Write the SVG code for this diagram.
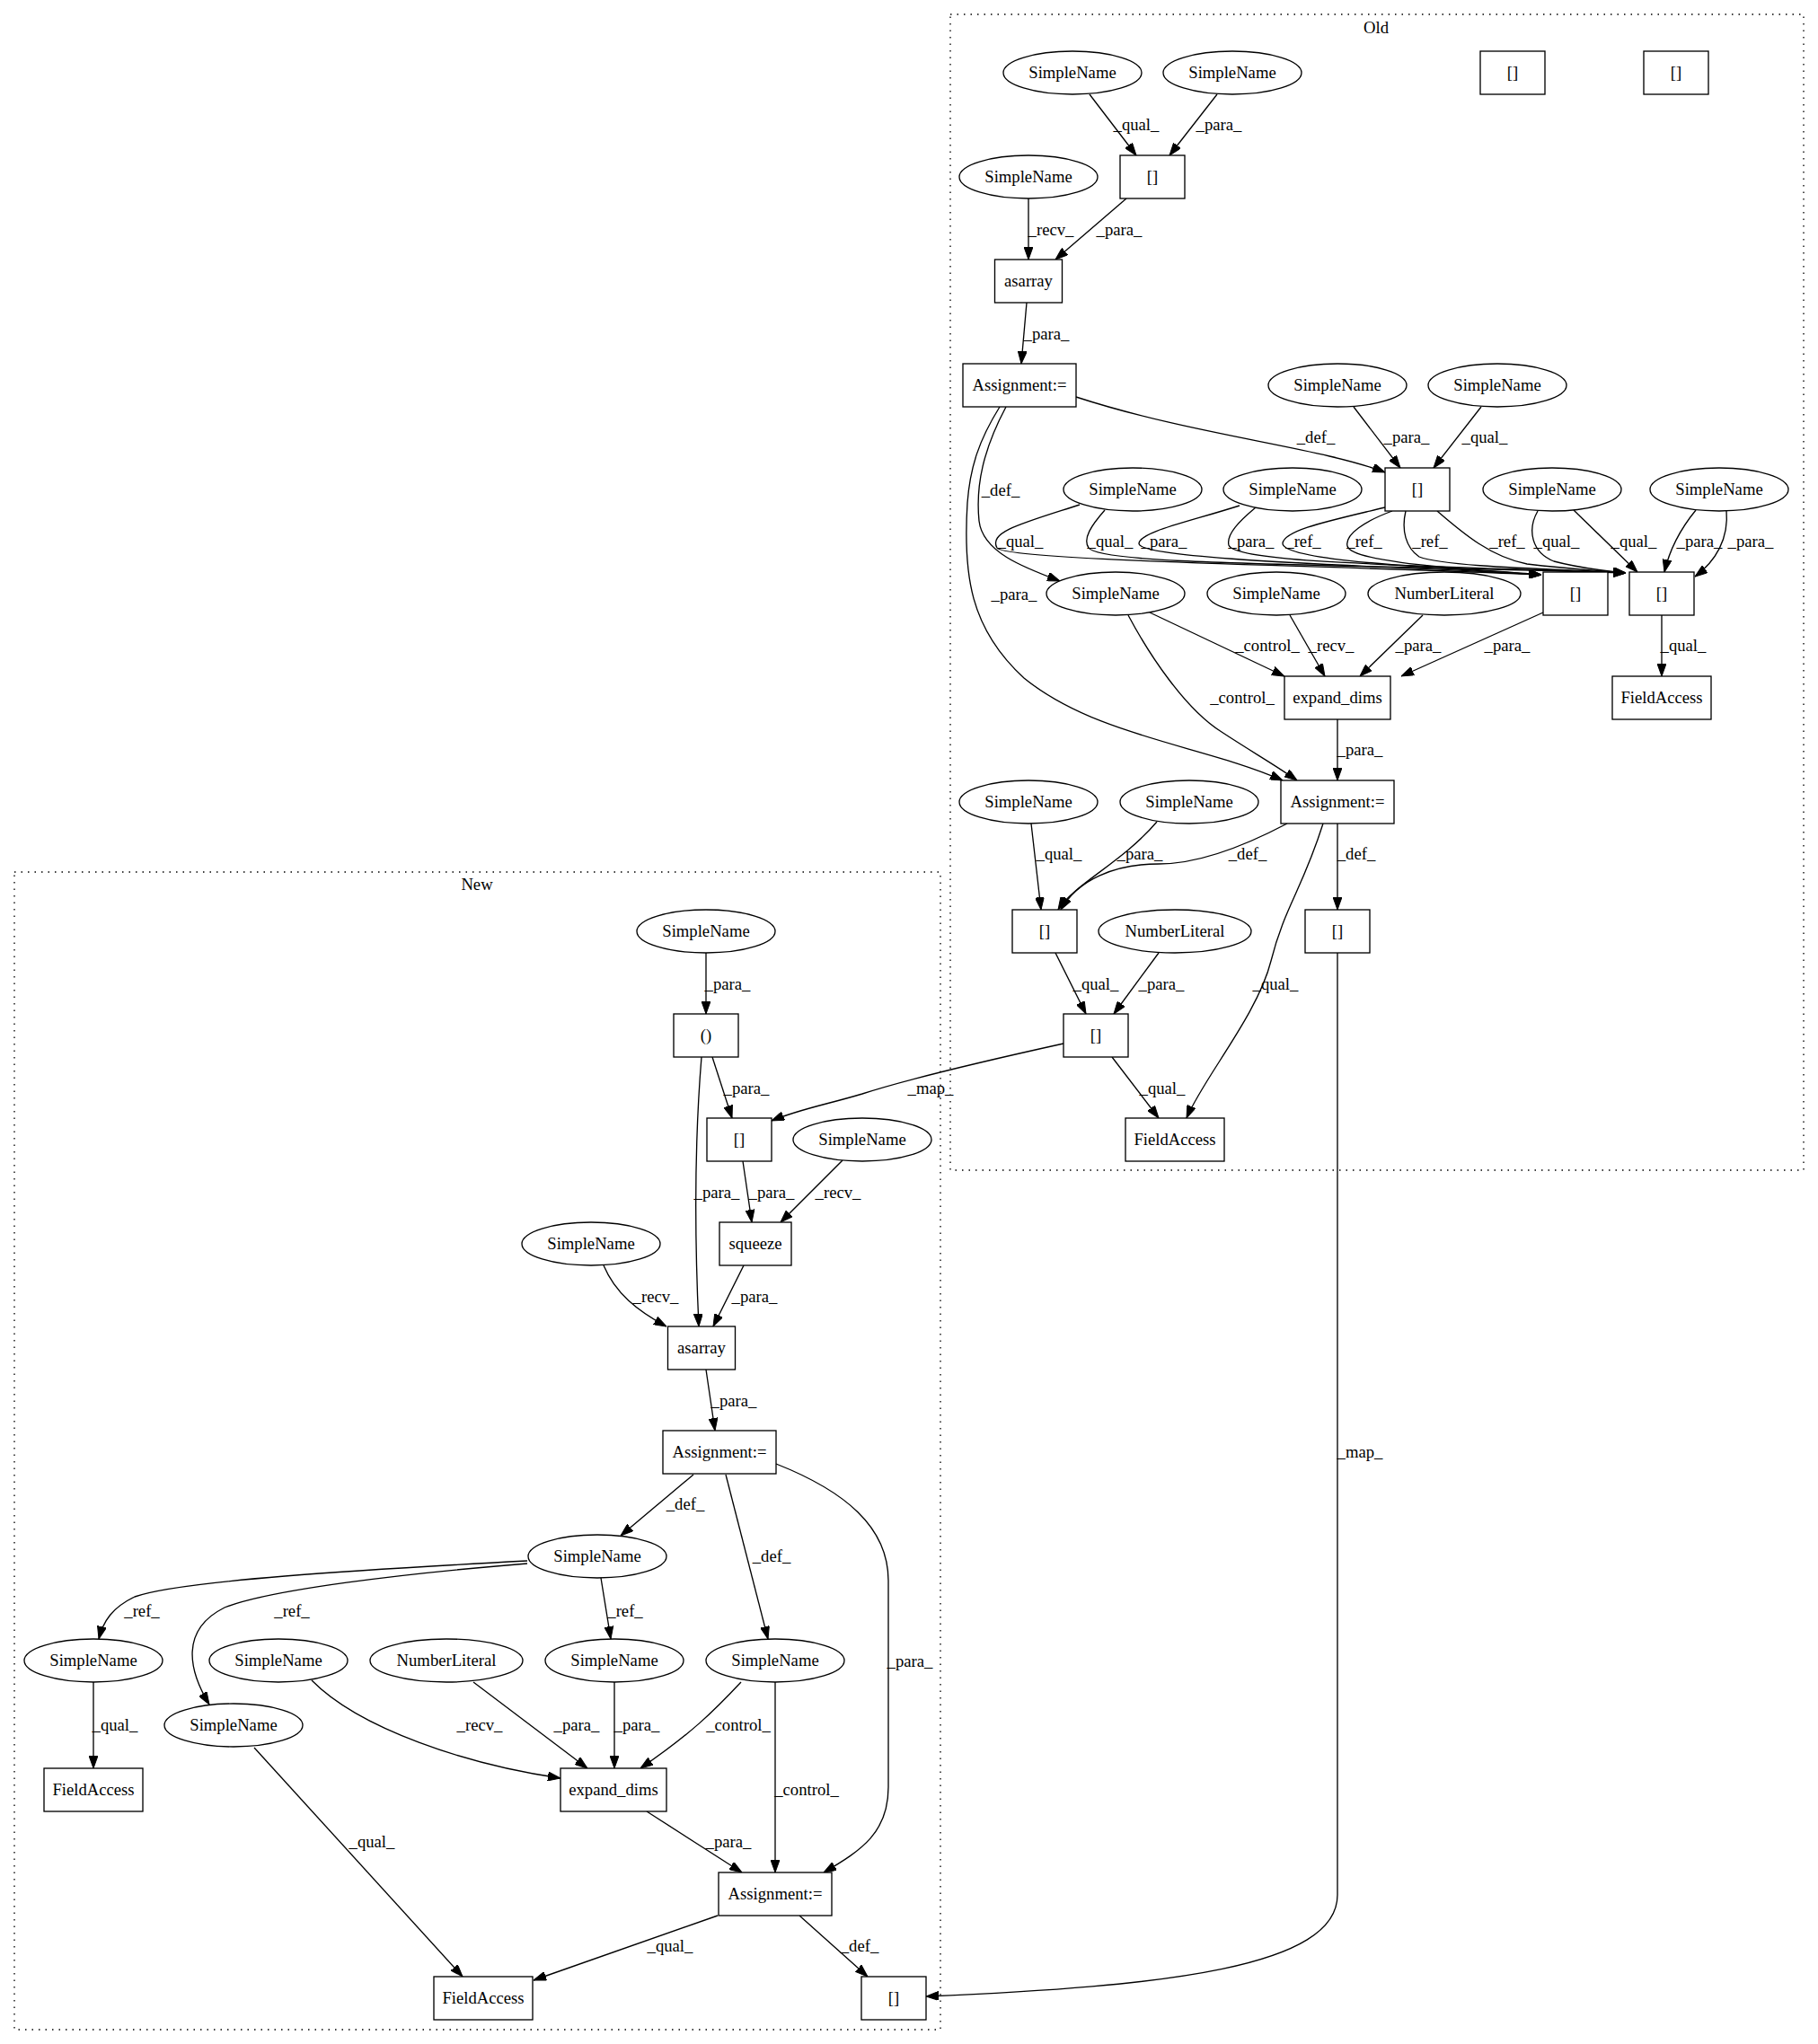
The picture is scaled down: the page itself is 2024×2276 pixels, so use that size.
<svg xmlns="http://www.w3.org/2000/svg" width="2024" height="2276" viewBox="0 0 2024 2276">
<style>
text{font-family:"Liberation Serif","Times New Roman",serif;font-size:18.67px;fill:#000;text-anchor:middle}
.n ellipse,.n rect{fill:#fff;stroke:#000;stroke-width:1.33}
.cl{fill:none;stroke:#000;stroke-width:1.33;stroke-dasharray:1.5,6}
.e path{fill:none;stroke:#000;stroke-width:1.33;marker-end:url(#arr)}
</style>
<defs>
<marker id="arr" viewBox="0 0 14 10" refX="14" refY="5" markerWidth="14" markerHeight="10" markerUnits="userSpaceOnUse" orient="auto"><path d="M0,0 L14,5 L0,10 z" fill="#000" stroke="#000" stroke-width="1"/></marker>
</defs>
<rect x="0" y="0" width="2024" height="2276" fill="#fff"/>
<g id="clusters">
<g id="cluster_old"><rect class="cl" x="1058" y="16" width="950" height="1287"/><text x="1532" y="37">Old</text></g>
<g id="cluster_new"><rect class="cl" x="16" y="971" width="1031" height="1289"/><text x="531" y="991">New</text></g>
</g>
<g id="edges">
<g class="e"><path d="M1213,105 L1265,173"/><text x="1265" y="145">_qual_</text></g>
<g class="e"><path d="M1355,105 L1302,173"/><text x="1357" y="145">_para_</text></g>
<g class="e"><path d="M1145,221 L1145,289"/><text x="1170" y="262">_recv_</text></g>
<g class="e"><path d="M1254,221 L1175,289"/><text x="1246" y="262">_para_</text></g>
<g class="e"><path d="M1143,337 L1137,405"/><text x="1165" y="378">_para_</text></g>
<g class="e"><path d="M1198,442 C1330,485 1470,498 1542,526"/><text x="1465" y="493">_def_</text></g>
<g class="e"><path d="M1507,453 L1559,521"/><text x="1566" y="493">_para_</text></g>
<g class="e"><path d="M1649,453 L1596,521"/><text x="1653" y="493">_qual_</text></g>
<g class="e"><path d="M1120,453 C1095,500 1086,540 1090,580 C1094,615 1140,632 1180,647"/><text x="1114" y="552">_def_</text></g>
<g class="e"><path d="M1113,453 C1090,490 1080,520 1077,560 C1072,640 1080,700 1140,755 C1220,820 1340,830 1428,869"/><text x="1129" y="668">_para_</text></g>
<g class="e"><path d="M1202,562 C1140,582 1100,592 1110,610 C1120,625 1500,630 1716,640"/><text x="1136" y="609">_qual_</text></g>
<g class="e"><path d="M1230,568 C1215,585 1205,600 1212,610 C1225,630 1500,628 1810,638"/><text x="1236" y="609">_qual_</text></g>
<g class="e"><path d="M1380,563 C1320,582 1270,592 1268,605 C1266,625 1600,632 1716,640"/><text x="1296" y="609">_para_</text></g>
<g class="e"><path d="M1398,565 C1380,580 1365,595 1368,607 C1375,628 1600,630 1810,638"/><text x="1393" y="609">_para_</text></g>
<g class="e"><path d="M1542,565 C1480,580 1430,590 1428,605 C1428,625 1600,632 1716,640"/><text x="1451" y="609">_ref_</text></g>
<g class="e"><path d="M1550,569 C1520,580 1497,595 1500,608 C1505,628 1650,634 1716,640"/><text x="1519" y="609">_ref_</text></g>
<g class="e"><path d="M1565,569 C1560,590 1565,610 1580,620 C1610,632 1750,634 1810,638"/><text x="1592" y="609">_ref_</text></g>
<g class="e"><path d="M1600,569 C1630,595 1660,620 1700,628 C1750,634 1790,636 1810,638"/><text x="1678" y="609">_ref_</text></g>
<g class="e"><path d="M1712,569 C1700,590 1705,615 1730,625 C1760,633 1790,636 1810,638"/><text x="1733" y="609">_qual_</text></g>
<g class="e"><path d="M1752,568 L1823,637"/><text x="1819" y="609">_qual_</text></g>
<g class="e"><path d="M1888,568 C1870,590 1858,615 1853,637"/><text x="1892" y="609">_para_</text></g>
<g class="e"><path d="M1922,568 C1925,600 1910,625 1887,642"/><text x="1949" y="609">_para_</text></g>
<g class="e"><path d="M1256,685 C1280,730 1320,790 1360,815 C1395,838 1420,852 1444,869"/><text x="1383" y="783">_control_</text></g>
<g class="e"><path d="M1280,682 L1430,753"/><text x="1411" y="725">_control_</text></g>
<g class="e"><path d="M1436,685 L1475,753"/><text x="1482" y="725">_recv_</text></g>
<g class="e"><path d="M1584,685 L1514,753"/><text x="1579" y="725">_para_</text></g>
<g class="e"><path d="M1718,682 L1560,753"/><text x="1678" y="725">_para_</text></g>
<g class="e"><path d="M1850,685 L1850,753"/><text x="1874" y="725">_qual_</text></g>
<g class="e"><path d="M1489,801 L1489,869"/><text x="1514" y="841">_para_</text></g>
<g class="e"><path d="M1148,917 L1159,1013"/><text x="1179" y="957">_qual_</text></g>
<g class="e"><path d="M1288,915 C1250,960 1195,985 1178,1013"/><text x="1269" y="957">_para_</text></g>
<g class="e"><path d="M1433,917 C1380,945 1330,962 1290,962 C1240,962 1200,980 1181,1013"/><text x="1389" y="957">_def_</text></g>
<g class="e"><path d="M1489,917 L1489,1013"/><text x="1510" y="957">_def_</text></g>
<g class="e"><path d="M1473,917 C1450,990 1430,1010 1415,1070 C1400,1130 1340,1200 1321,1245"/><text x="1420" y="1102">_qual_</text></g>
<g class="e"><path d="M1175,1061 L1209,1129"/><text x="1220" y="1102">_qual_</text></g>
<g class="e"><path d="M1290,1061 L1240,1129"/><text x="1293" y="1102">_para_</text></g>
<g class="e"><path d="M1238,1177 L1290,1245"/><text x="1294" y="1218">_qual_</text></g>
<g class="e"><path d="M1184,1162 C1080,1185 1000,1205 960,1218 C920,1230 890,1235 859,1248"/><text x="1036" y="1218">_map_</text></g>
<g class="e"><path d="M1489,1061 L1489,2110 C1489,2190 1300,2212 1031,2223"/><text x="1514" y="1623">_map_</text></g>
<g class="e"><path d="M786,1061 L786,1129"/><text x="810" y="1102">_para_</text></g>
<g class="e"><path d="M793,1177 L815,1245"/><text x="831" y="1218">_para_</text></g>
<g class="e"><path d="M781,1177 C775,1250 772,1350 778,1477"/><text x="798" y="1334">_para_</text></g>
<g class="e"><path d="M827,1293 L837,1361"/><text x="859" y="1334">_para_</text></g>
<g class="e"><path d="M938,1292 L869,1361"/><text x="933" y="1334">_recv_</text></g>
<g class="e"><path d="M672,1409 C685,1440 710,1460 742,1477"/><text x="730" y="1450">_recv_</text></g>
<g class="e"><path d="M828,1409 L794,1477"/><text x="840" y="1450">_para_</text></g>
<g class="e"><path d="M786,1525 L796,1593"/><text x="817" y="1566">_para_</text></g>
<g class="e"><path d="M772,1642 L691,1710"/><text x="763" y="1681">_def_</text></g>
<g class="e"><path d="M808,1642 L855,1825"/><text x="859" y="1739">_def_</text></g>
<g class="e"><path d="M864,1630 C940,1660 989,1700 989,1760 L989,1990 C989,2040 960,2060 917,2085"/><text x="1013" y="1856">_para_</text></g>
<g class="e"><path d="M587,1738 C400,1748 200,1760 150,1778 C125,1790 115,1805 110,1825"/><text x="158" y="1800">_ref_</text></g>
<g class="e"><path d="M587,1741 C450,1752 300,1770 250,1790 C200,1815 210,1860 233,1898"/><text x="325" y="1800">_ref_</text></g>
<g class="e"><path d="M669,1757 L680,1825"/><text x="696" y="1800">_ref_</text></g>
<g class="e"><path d="M104,1873 L104,1969"/><text x="128" y="1927">_qual_</text></g>
<g class="e"><path d="M347,1871 C400,1925 520,1965 624,1980"/><text x="534" y="1927">_recv_</text></g>
<g class="e"><path d="M527,1873 L654,1969"/><text x="642" y="1927">_para_</text></g>
<g class="e"><path d="M684,1873 L684,1969"/><text x="709" y="1927">_para_</text></g>
<g class="e"><path d="M825,1873 C795,1905 770,1930 713,1969"/><text x="822" y="1927">_control_</text></g>
<g class="e"><path d="M863,1873 L863,2085"/><text x="898" y="1999">_control_</text></g>
<g class="e"><path d="M720,2017 L826,2085"/><text x="811" y="2057">_para_</text></g>
<g class="e"><path d="M283,1946 L515,2201"/><text x="414" y="2057">_qual_</text></g>
<g class="e"><path d="M799,2133 L594,2205"/><text x="746" y="2173">_qual_</text></g>
<g class="e"><path d="M890,2133 L966,2201"/><text x="957" y="2173">_def_</text></g>
</g>
<g id="nodes">
<g id="o1" class="n"><ellipse cx="1194" cy="81" rx="77" ry="24"/><text x="1194" y="87">SimpleName</text></g>
<g id="o2" class="n"><ellipse cx="1372" cy="81" rx="77" ry="24"/><text x="1372" y="87">SimpleName</text></g>
<g id="o3" class="n"><rect x="1648" y="57" width="72" height="48"/><text x="1684" y="87">[]</text></g>
<g id="o4" class="n"><rect x="1830" y="57" width="72" height="48"/><text x="1866" y="87">[]</text></g>
<g id="o5" class="n"><ellipse cx="1145" cy="197" rx="77" ry="24"/><text x="1145" y="203">SimpleName</text></g>
<g id="o6" class="n"><rect x="1247" y="173" width="72" height="48"/><text x="1283" y="203">[]</text></g>
<g id="o7" class="n"><rect x="1107.5" y="289" width="75" height="48"/><text x="1145" y="319">asarray</text></g>
<g id="o8" class="n"><rect x="1072" y="405" width="126" height="48"/><text x="1135" y="435">Assignment:=</text></g>
<g id="o9" class="n"><ellipse cx="1489" cy="429" rx="77" ry="24"/><text x="1489" y="435">SimpleName</text></g>
<g id="o10" class="n"><ellipse cx="1667" cy="429" rx="77" ry="24"/><text x="1667" y="435">SimpleName</text></g>
<g id="o11" class="n"><ellipse cx="1261" cy="545" rx="77" ry="24"/><text x="1261" y="551">SimpleName</text></g>
<g id="o12" class="n"><ellipse cx="1439" cy="545" rx="77" ry="24"/><text x="1439" y="551">SimpleName</text></g>
<g id="o13" class="n"><rect x="1542" y="521" width="72" height="48"/><text x="1578" y="551">[]</text></g>
<g id="o14" class="n"><ellipse cx="1728" cy="545" rx="77" ry="24"/><text x="1728" y="551">SimpleName</text></g>
<g id="o15" class="n"><ellipse cx="1914" cy="545" rx="77" ry="24"/><text x="1914" y="551">SimpleName</text></g>
<g id="o16" class="n"><ellipse cx="1242" cy="661" rx="77" ry="24"/><text x="1242" y="667">SimpleName</text></g>
<g id="o17" class="n"><ellipse cx="1421" cy="661" rx="77" ry="24"/><text x="1421" y="667">SimpleName</text></g>
<g id="o18" class="n"><ellipse cx="1608" cy="661" rx="85" ry="24"/><text x="1608" y="667">NumberLiteral</text></g>
<g id="o19" class="n"><rect x="1718" y="637" width="72" height="48"/><text x="1754" y="667">[]</text></g>
<g id="o20" class="n"><rect x="1814" y="637" width="72" height="48"/><text x="1850" y="667">[]</text></g>
<g id="o21" class="n"><rect x="1430" y="753" width="118" height="48"/><text x="1489" y="783">expand_dims</text></g>
<g id="o22" class="n"><rect x="1795" y="753" width="110" height="48"/><text x="1850" y="783">FieldAccess</text></g>
<g id="o23" class="n"><ellipse cx="1145" cy="893" rx="77" ry="24"/><text x="1145" y="899">SimpleName</text></g>
<g id="o24" class="n"><ellipse cx="1324" cy="893" rx="77" ry="24"/><text x="1324" y="899">SimpleName</text></g>
<g id="o25" class="n"><rect x="1426" y="869" width="126" height="48"/><text x="1489" y="899">Assignment:=</text></g>
<g id="o26" class="n"><rect x="1127" y="1013" width="72" height="48"/><text x="1163" y="1043">[]</text></g>
<g id="o27" class="n"><ellipse cx="1308" cy="1037" rx="85" ry="24"/><text x="1308" y="1043">NumberLiteral</text></g>
<g id="o28" class="n"><rect x="1453" y="1013" width="72" height="48"/><text x="1489" y="1043">[]</text></g>
<g id="o29" class="n"><rect x="1184" y="1129" width="72" height="48"/><text x="1220" y="1159">[]</text></g>
<g id="o30" class="n"><rect x="1253" y="1245" width="110" height="48"/><text x="1308" y="1275">FieldAccess</text></g>
<g id="n1" class="n"><ellipse cx="786" cy="1037" rx="77" ry="24"/><text x="786" y="1043">SimpleName</text></g>
<g id="n2" class="n"><rect x="750" y="1129" width="72" height="48"/><text x="786" y="1159">()</text></g>
<g id="n3" class="n"><rect x="787" y="1245" width="72" height="48"/><text x="823" y="1275">[]</text></g>
<g id="n4" class="n"><ellipse cx="960" cy="1269" rx="77" ry="24"/><text x="960" y="1275">SimpleName</text></g>
<g id="n5" class="n"><ellipse cx="658" cy="1385" rx="77" ry="24"/><text x="658" y="1391">SimpleName</text></g>
<g id="n6" class="n"><rect x="801" y="1361" width="80" height="48"/><text x="841" y="1391">squeeze</text></g>
<g id="n7" class="n"><rect x="743.5" y="1477" width="75" height="48"/><text x="781" y="1507">asarray</text></g>
<g id="n8" class="n"><rect x="738" y="1593" width="126" height="48"/><text x="801" y="1623">Assignment:=</text></g>
<g id="n9" class="n"><ellipse cx="665" cy="1733" rx="77" ry="24"/><text x="665" y="1739">SimpleName</text></g>
<g id="n10" class="n"><ellipse cx="104" cy="1849" rx="77" ry="24"/><text x="104" y="1855">SimpleName</text></g>
<g id="n11" class="n"><ellipse cx="310" cy="1849" rx="77" ry="24"/><text x="310" y="1855">SimpleName</text></g>
<g id="n12" class="n"><ellipse cx="497" cy="1849" rx="85" ry="24"/><text x="497" y="1855">NumberLiteral</text></g>
<g id="n13" class="n"><ellipse cx="684" cy="1849" rx="77" ry="24"/><text x="684" y="1855">SimpleName</text></g>
<g id="n14" class="n"><ellipse cx="863" cy="1849" rx="77" ry="24"/><text x="863" y="1855">SimpleName</text></g>
<g id="n15" class="n"><ellipse cx="260" cy="1921" rx="77" ry="24"/><text x="260" y="1927">SimpleName</text></g>
<g id="n16" class="n"><rect x="49" y="1969" width="110" height="48"/><text x="104" y="1999">FieldAccess</text></g>
<g id="n17" class="n"><rect x="624" y="1969" width="118" height="48"/><text x="683" y="1999">expand_dims</text></g>
<g id="n18" class="n"><rect x="800" y="2085" width="126" height="48"/><text x="863" y="2115">Assignment:=</text></g>
<g id="n19" class="n"><rect x="483" y="2201" width="110" height="48"/><text x="538" y="2231">FieldAccess</text></g>
<g id="n20" class="n"><rect x="959" y="2201" width="72" height="48"/><text x="995" y="2231">[]</text></g>
</g>
</svg>
